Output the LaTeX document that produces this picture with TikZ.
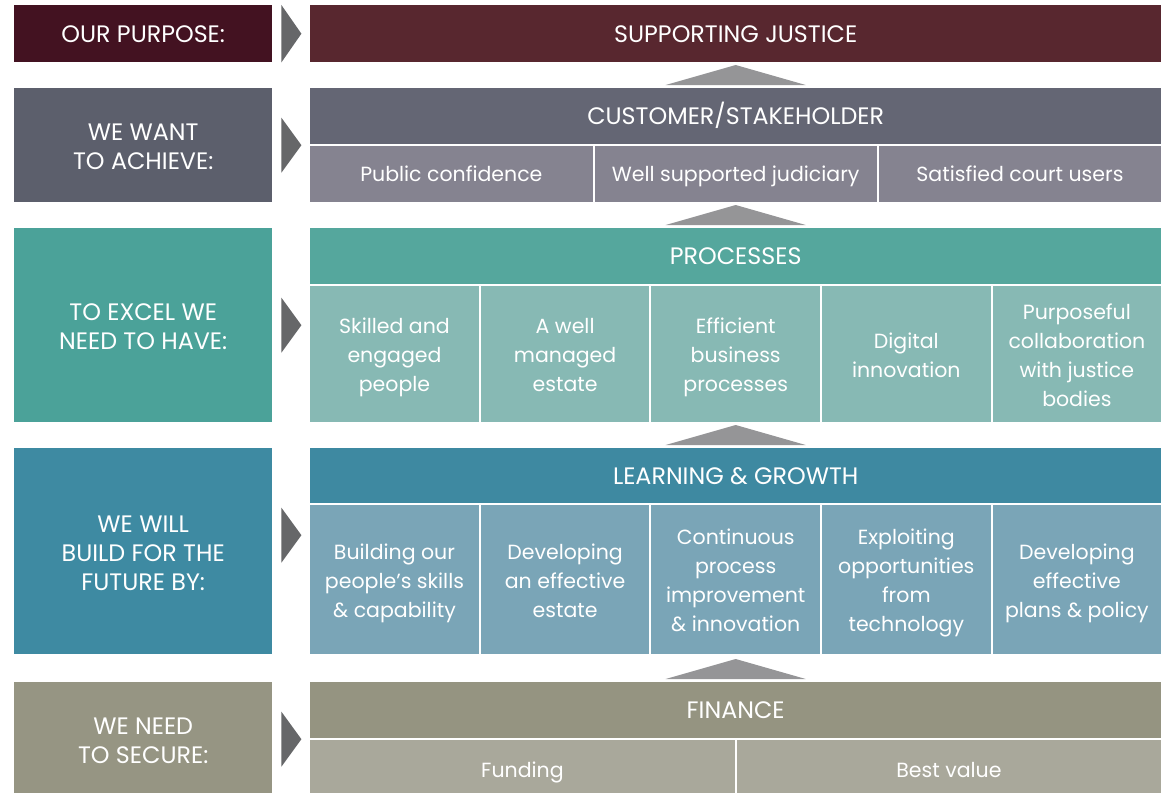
\documentclass[tikz,border=0pt]{standalone}
\usepackage{fontspec}
\setmainfont{Poppins}
\usetikzlibrary{positioning, calc}

\definecolor{purposeLeft}{HTML}{431221}
\definecolor{purposeBar}{HTML}{58272F}
\definecolor{achieveLeft}{HTML}{5C5F6C}
\definecolor{achieveBar}{HTML}{646674}
\definecolor{achieveCell}{HTML}{858390}
\definecolor{excelLeft}{HTML}{4BA299}
\definecolor{excelBar}{HTML}{55A79D}
\definecolor{excelCell}{HTML}{87B9B4}
\definecolor{buildLeft}{HTML}{3E8AA2}
\definecolor{buildBar}{HTML}{3E89A1}
\definecolor{buildCell}{HTML}{7AA5B7}
\definecolor{secureLeft}{HTML}{969583}
\definecolor{secureBar}{HTML}{959481}
\definecolor{secureCell}{HTML}{A9A89B}
\definecolor{pointerGrey}{HTML}{666769}
\definecolor{liftGrey}{HTML}{959597}

% struts that keep the lines of every box at the same place
\newcommand{\capstrut}{\rule[-5.3pt]{0pt}{27.3pt}}
\newcommand{\textstrut}{\rule[-6.6pt]{0pt}{27.6pt}}
\newcommand{\topcap}{\rule{0pt}{25pt}}
\newcommand{\toptext}{\rule{0pt}{24pt}}

\begin{document}
\begin{tikzpicture}
  [x=1pt, y=-1pt,
   panel/.style={anchor=north west, inner sep=0pt, text=white, align=center},
   caps/.style={panel, font=\fontsize{23.8}{29}\selectfont,
                execute at begin node=\capstrut, execute at end node=\capstrut},
   cell/.style={panel, font=\fontsize{20.5}{29}\selectfont,
                execute at begin node=\textstrut, execute at end node=\textstrut},
   label/.style={caps, minimum width=258pt},
   bar/.style={caps, minimum width=851pt},
   pointer/.style={fill=pointerGrey},
   lift/.style={fill=liftGrey}]
  \useasboundingbox (0,0) rectangle (1169,792);
  % left column
  \node[label, fill=purposeLeft, minimum height=57pt] (purpose) at (14,5)   {OUR PURPOSE:};
  \node[label, fill=achieveLeft, minimum height=114pt] (achieve) at (14,88) {\topcap WE WANT\\TO ACHIEVE:};
  \node[label, fill=excelLeft,   minimum height=194pt] (excel)   at (14,228) {\topcap TO EXCEL WE\\NEED TO HAVE:};
  \node[label, fill=buildLeft,   minimum height=206pt] (build)   at (14,448) {\topcap WE WILL\\BUILD FOR THE\\FUTURE BY:};
  \node[label, fill=secureLeft,  minimum height=114pt] (secure)  at (14,682) {\topcap WE NEED\\TO SECURE:};
  % header bars
  \node[bar, fill=purposeBar, minimum height=57pt] (justice)  at (310,5)   {SUPPORTING JUSTICE};
  \node[bar, fill=achieveBar, minimum height=56pt] (customer) at (310,88)  {CUSTOMER/STAKEHOLDER};
  \node[bar, fill=excelBar,   minimum height=56pt] (process)  at (310,228) {PROCESSES};
  \node[bar, fill=buildBar,   minimum height=55pt] (growth)   at (310,448) {LEARNING \& GROWTH};
  \node[bar, fill=secureBar,  minimum height=56pt] (finance)  at (310,682) {FINANCE};
  % cells
  \foreach \txt [count=\i from 0] in {Public confidence, Well supported judiciary, Satisfied court users}
    \node[cell, fill=achieveCell, minimum width=282.3pt, minimum height=56pt]
      (cust\i) at (310+284.3*\i,146) {\txt};
  \foreach \txt [count=\i from 0] in {{Skilled and\\engaged\\people}, {A well\\managed\\estate},
      {Efficient\\business\\processes}, {Digital\\innovation},
      {Purposeful\\collaboration\\with justice\\bodies}}
    \node[cell, fill=excelCell, minimum width=168.6pt, minimum height=136pt]
      (proc\i) at (310+170.6*\i,286) {\toptext\txt};
  \foreach \txt [count=\i from 0] in {{Building our\\people’s skills\\\& capability},
      {Developing\\an effective\\estate}, {Continuous\\process\\improvement\\\& innovation},
      {Exploiting\\opportunities\\from\\technology}, {Developing\\effective\\plans \& policy}}
    \node[cell, fill=buildCell, minimum width=168.6pt, minimum height=149pt]
      (grow\i) at (310+170.6*\i,505) {\toptext\txt};
  \foreach \txt [count=\i from 0] in {Funding, Best value}
    \node[cell, fill=secureCell, minimum width=424.5pt, minimum height=60pt]
      (fin\i) at (310+426.5*\i,740) {\txt};
  % pointers into the bars
  \fill[pointer] ($(purpose.north east)+(9,0)$) -- ($(purpose.east)+(29,0)$)
    -- ($(purpose.south east)+(9,0)$) -- cycle;
  \foreach \n/\dy in {achieve/0, excel/0, build/-16, secure/0}
    \fill[pointer] ($(\n.east)+(9,\dy-27.5)$) -- ($(\n.east)+(29,\dy)$)
      -- ($(\n.east)+(9,\dy+27.5)$) -- cycle;
  % lifts between the levels
  \foreach \n in {customer, process, growth, finance}
    \fill[lift] ($(\n.north)+(-70,-3)$) -- ($(\n.north)+(0,-23)$)
      -- ($(\n.north)+(70,-3)$) -- cycle;
\end{tikzpicture}
\end{document}
